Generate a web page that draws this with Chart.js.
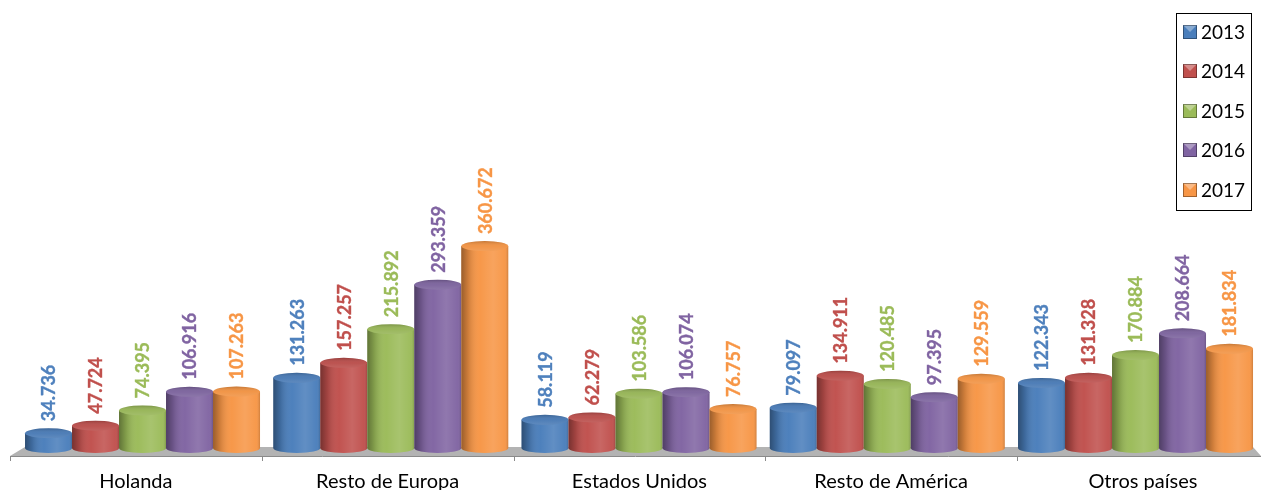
<!DOCTYPE html>
<html><head><meta charset="utf-8">
<style>html,body{margin:0;padding:0;background:#fff;overflow:hidden}</style>
<script src="https://cdn.jsdelivr.net/npm/chart.js@4"></script></head>
<body><canvas id="c" width="1261" height="490" style="width:1261px;height:490px;display:block"></canvas>
<script>
const categories=["Holanda","Resto de Europa","Estados Unidos","Resto de América","Otros países"];
const years=["2013","2014","2015","2016","2017"];
const v2013=[34736,131263,58119,79097,122343];
const v2014=[47724,157257,62279,134911,131328];
const v2015=[74395,215892,103586,120485,170884];
const v2016=[106916,293359,106074,97395,208664];
const v2017=[107263,360672,76757,129559,181834];
const series=[v2013,v2014,v2015,v2016,v2017];
const colors=["#4a7ebb","#c0504d","#9bbb59","#8064a2","#f79646"];
const tops=["#4577b3","#b84a47","#94b353","#79609b","#f0903f"];
const FONT="Lato, Carlito, Calibri, sans-serif";
const RY=5, TICK0=10, TICKSTEP=251.75;

const cylinder={id:'cylinder',
 beforeDatasetsDraw(chart){
  const {ctx,chartArea:a,width:W}=chart;
  const axisY=a.bottom, backY=axisY-9;
  ctx.save();
  ctx.fillStyle='#b3b3b3';
  ctx.beginPath();ctx.moveTo(TICK0,axisY);ctx.lineTo(TICK0+15,backY);ctx.lineTo(W-8,backY);ctx.lineTo(W,axisY);ctx.closePath();ctx.fill();
  ctx.strokeStyle='#8a8a8a';ctx.lineWidth=1;
  ctx.beginPath();ctx.moveTo(TICK0,axisY+.5);ctx.lineTo(W,axisY+.5);
  for(let i=0;i<=categories.length;i++){const t=Math.round(TICK0+i*TICKSTEP)+.5;ctx.moveTo(t,axisY);ctx.lineTo(t,axisY+5);}
  ctx.stroke();
  ctx.fillStyle='#000';ctx.font='20px '+FONT;ctx.textAlign='center';ctx.textBaseline='middle';
  categories.forEach((c,i)=>ctx.fillText(c,TICK0+(i+.5)*TICKSTEP,482));
  ctx.restore();
 },
 afterDatasetsDraw(chart){
  const {ctx}=chart;
  chart.data.datasets.forEach((ds,di)=>{
   chart.getDatasetMeta(di).data.forEach((bar,i)=>{
    const {x:cx,y,base,width}=bar.getProps(['x','y','base','width'],true);
    const l=cx-width/2,r=cx+width/2,rx=width/2;
    ctx.save();
    ctx.beginPath();ctx.moveTo(l,y);ctx.lineTo(l,base);ctx.ellipse(cx,base,rx,RY,0,Math.PI,0,true);ctx.lineTo(r,y);ctx.closePath();
    ctx.fillStyle=colors[di];ctx.fill();
    const g=ctx.createLinearGradient(l,0,r,0);
    g.addColorStop(0,'rgba(0,0,0,.38)');g.addColorStop(.15,'rgba(0,0,0,.16)');g.addColorStop(.4,'rgba(255,255,255,.02)');
    g.addColorStop(.68,'rgba(255,255,255,.13)');g.addColorStop(.92,'rgba(255,255,255,.03)');g.addColorStop(1,'rgba(0,0,0,.16)');
    ctx.fillStyle=g;ctx.fill();
    ctx.beginPath();ctx.ellipse(cx,y,rx,RY,0,0,Math.PI*2);ctx.fillStyle=tops[di];ctx.fill();
    const t=ctx.createLinearGradient(0,y-RY,0,y+RY);
    t.addColorStop(0,'rgba(0,0,0,.18)');t.addColorStop(.5,'rgba(255,255,255,.05)');t.addColorStop(1,'rgba(255,255,255,.14)');
    ctx.fillStyle=t;ctx.fill();
    ctx.translate(cx+1,y-RY-7);ctx.rotate(-Math.PI/2);
    ctx.font='bold 18px '+FONT;ctx.fillStyle=colors[di]==='#4a7ebb'?'#4f81bd':colors[di];
    ctx.strokeStyle=ctx.fillStyle;ctx.lineWidth=.35;
    ctx.textAlign='left';ctx.textBaseline='middle';
    const txt=ds.data[i].toLocaleString('de-DE');
    ctx.fillText(txt,0,0);ctx.strokeText(txt,0,0);
    ctx.restore();
   });
  });
 },
 afterDraw(chart){
  const {ctx}=chart;
  ctx.save();
  ctx.strokeStyle='#000';ctx.lineWidth=1;ctx.fillStyle='#fff';
  ctx.fillRect(1176,13,76,198);ctx.strokeRect(1176.5,13.5,75,197);
  const rows=[32,71,111,150,190];
  chart.data.datasets.forEach((ds,i)=>{
   const y=rows[i],s=14,l=1183,t=y-7;
   ctx.fillStyle=colors[i];ctx.fillRect(l,t,s,s);
   ctx.fillStyle='rgba(255,255,255,.35)';
   ctx.beginPath();ctx.moveTo(l,t);ctx.lineTo(l+s,t);ctx.lineTo(l+s/2,t+s/2);ctx.closePath();ctx.fill();
   ctx.strokeStyle='rgba(0,0,0,.35)';ctx.strokeRect(l+.5,t+.5,s-1,s-1);
   ctx.fillStyle='#000';ctx.font='19px '+FONT;ctx.textAlign='left';ctx.textBaseline='middle';
   ctx.fillText(ds.label,1201,y+1);
  });
  ctx.restore();
 }};

new Chart(document.getElementById('c'),{
 type:'bar',
 data:{labels:categories,datasets:years.map((y,i)=>({label:y,data:series[i],backgroundColor:'rgba(0,0,0,0)',base:9000,
   barPercentage:1,categoryPercentage:.9466}))},
 plugins:[cylinder],
 options:{responsive:false,animation:false,
  layout:{padding:{left:18.4,right:1.35,top:10,bottom:0}},
  plugins:{legend:{display:false},tooltip:{enabled:false}},
  scales:{
   x:{grid:{display:false},border:{display:false},
      afterFit(s){s.height=34;},
      ticks:{display:false}},
   y:{display:false,min:-5000,max:772000}
  }}
});
</script></body></html>
